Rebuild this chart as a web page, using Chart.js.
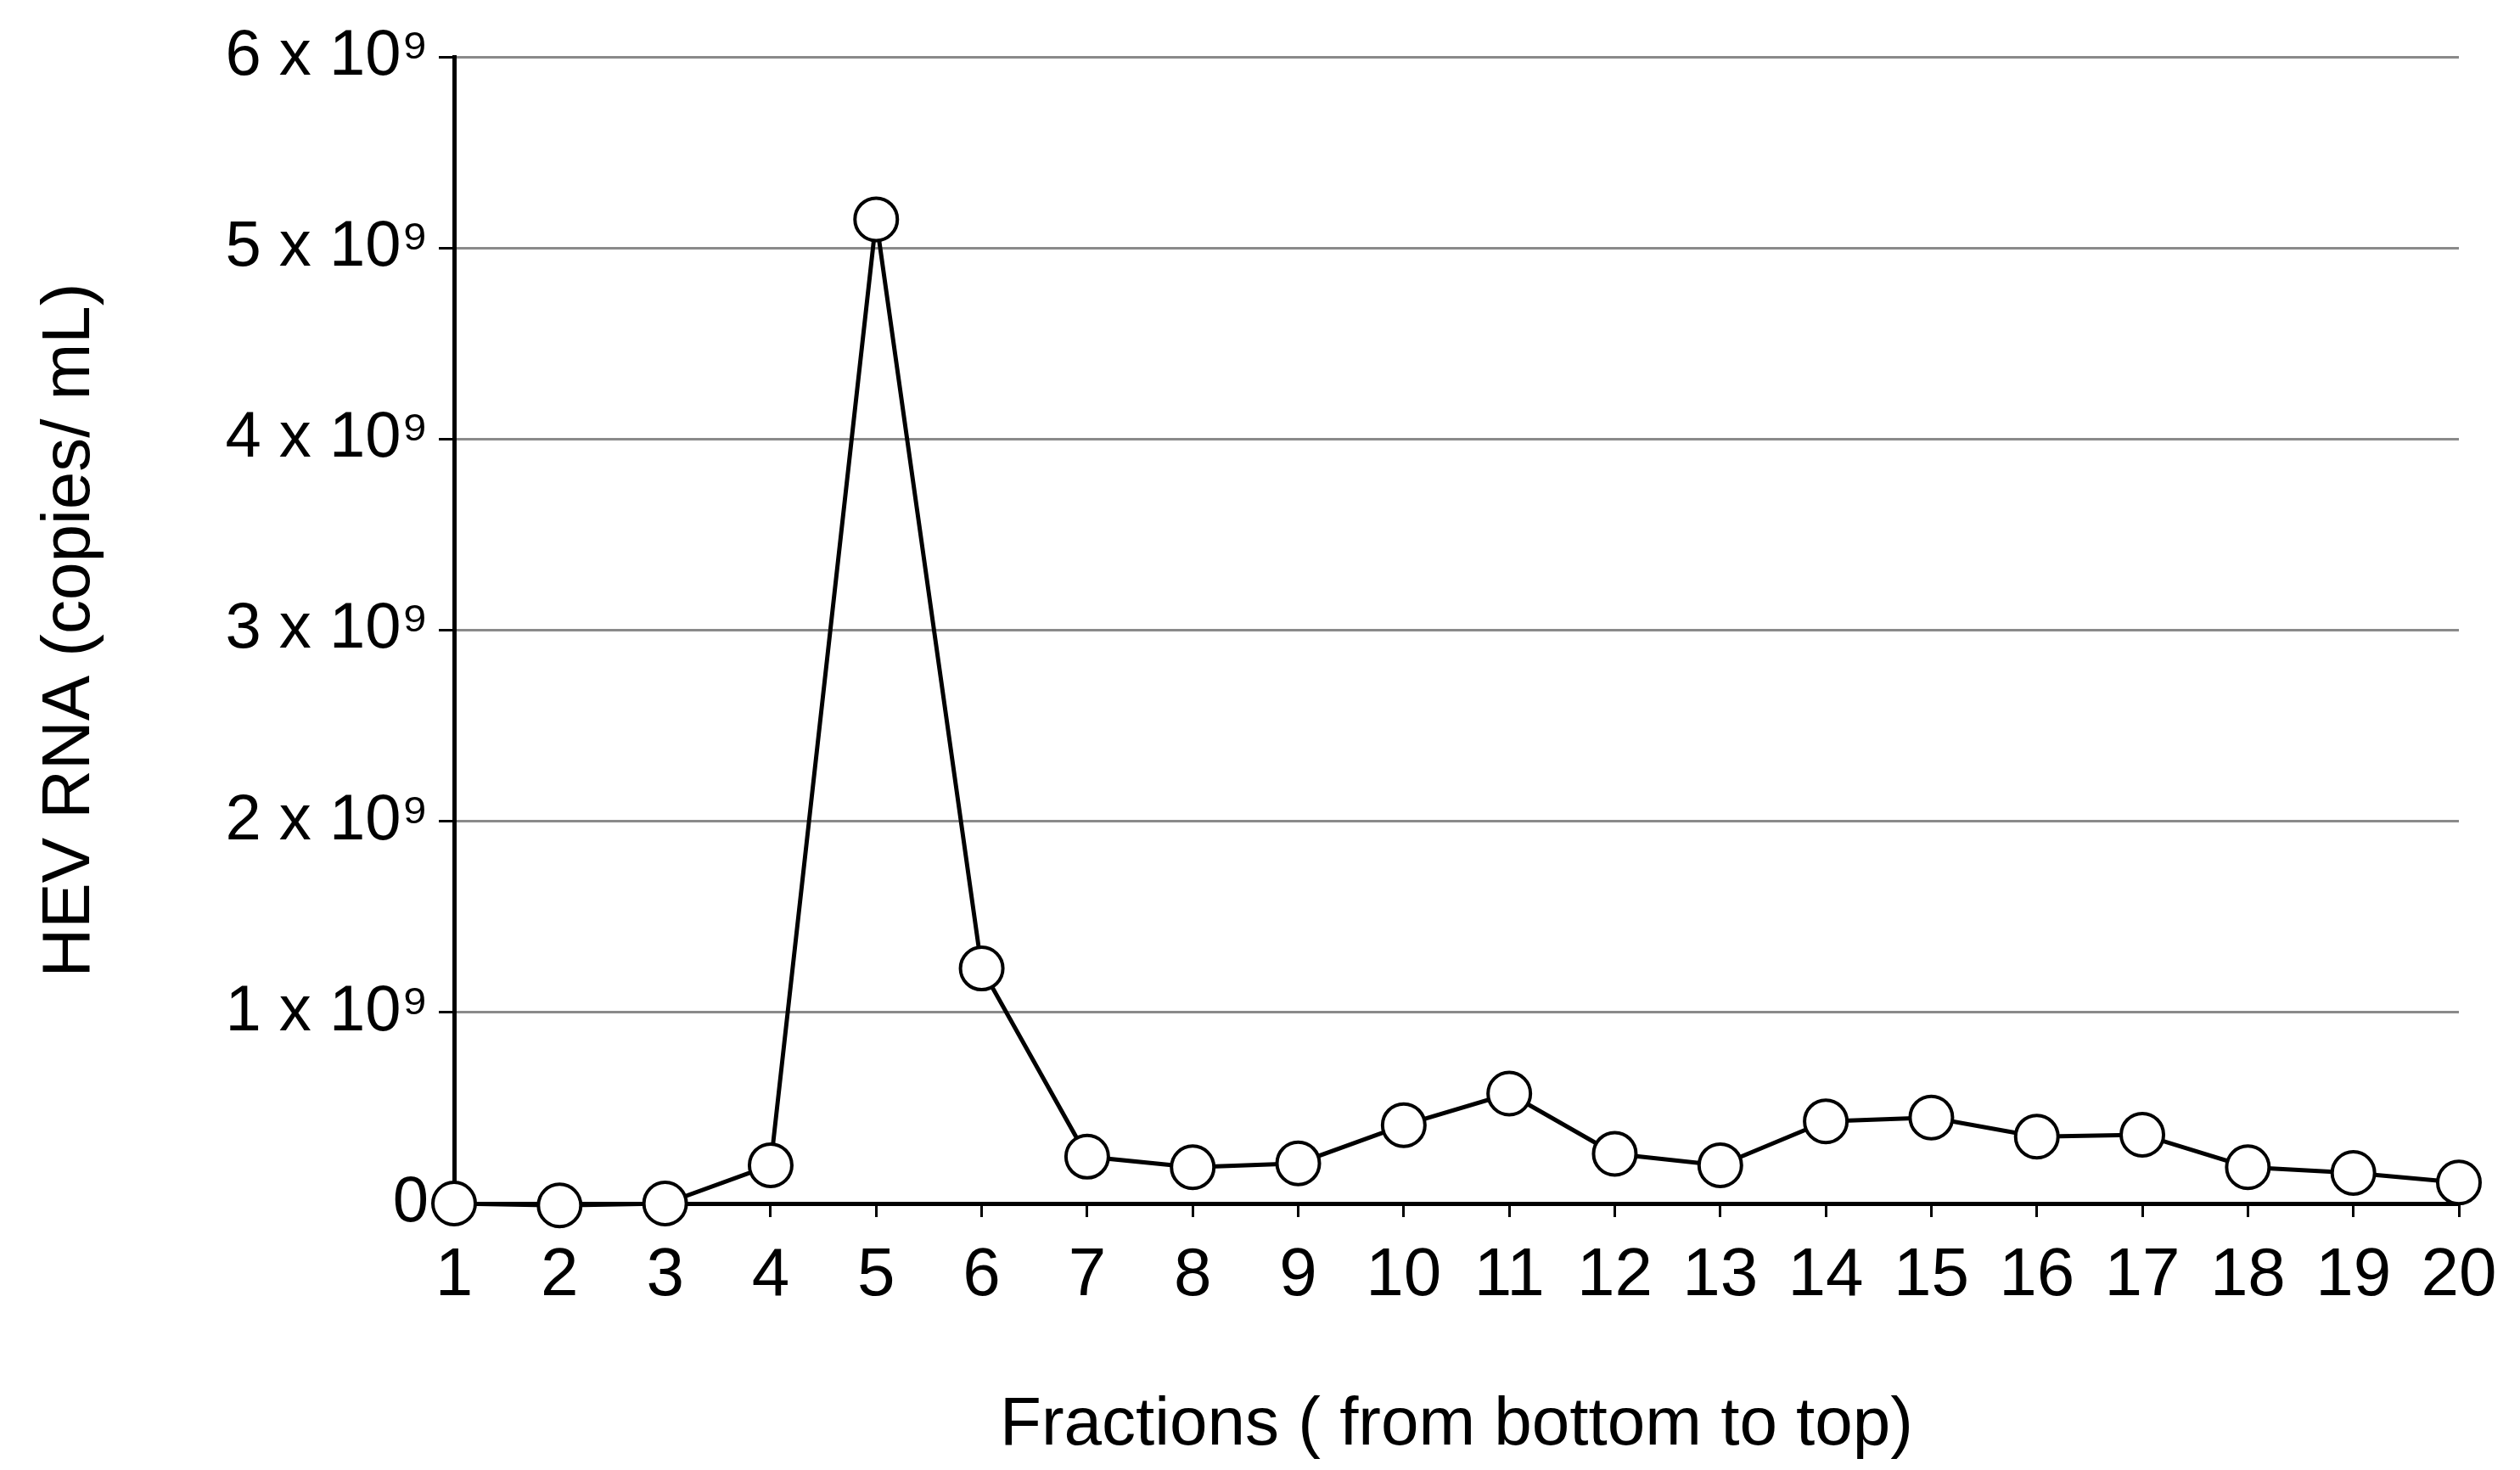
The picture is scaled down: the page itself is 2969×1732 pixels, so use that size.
<!DOCTYPE html>
<html>
<head>
<meta charset="UTF-8">
<script src="https://cdn.jsdelivr.net/npm/chart.js"></script>
<style>
  html, body { margin: 0; padding: 0; background: #fff; }
  #wrap { width: 2969px; height: 1732px; }
</style>
</head>
<body>
<div id="wrap"><canvas id="myChart" width="2969" height="1732"></canvas></div>
<script>
const fractions = ['1','2','3','4','5','6','7','8','9','10','11','12','13','14','15','16','17','18','19','20'];
// HEV RNA, copies/mL (units of 1e9)
const hevRna = [0, -0.01, 0, 0.2, 5.15, 1.23, 0.245, 0.19, 0.21, 0.41, 0.575, 0.26, 0.2, 0.43, 0.45, 0.35, 0.36, 0.19, 0.16, 0.11];
const yTicks = [0, 1, 2, 3, 4, 5, 6];

const font = 'Liberation Sans, Arial, sans-serif';

const ctx = document.getElementById('myChart').getContext('2d');
new Chart(ctx, {
  type: 'line',
  data: {
    labels: fractions,
    datasets: [{
      data: hevRna.map(v => v * 1e9),
      borderColor: '#000',
      borderWidth: 5,
      pointRadius: 25,
      pointBackgroundColor: '#fff',
      pointBorderColor: '#000',
      pointBorderWidth: 4,
      tension: 0,
      clip: false
    }]
  },
  options: {
    responsive: false,
    animation: false,
    layout: { padding: { top: 67, right: 72, left: 0, bottom: 0 } },
    plugins: { legend: { display: false }, tooltip: { enabled: false } },
    scales: {
      x: {
        offset: false,
        grid: { drawOnChartArea: false, color: '#000', tickLength: 16, lineWidth: 3 },
        border: { color: '#000', width: 5 },
        ticks: { color: '#000', font: { family: font, size: 80 }, padding: 22, maxRotation: 0, autoSkip: false },
        title: { display: true, text: 'Fractions ( from bottom to top)', color: '#000',
                 font: { family: font, size: 80 }, padding: { top: 50 } },
        afterFit: s => { s.height = 314; }
      },
      y: {
        min: 0, max: 6e9,
        afterBuildTicks: s => { s.ticks = yTicks.map(v => ({ value: v * 1e9 })); },
        grid: { color: ctx => ctx.tick && ctx.tick.value === 0 ? '#000' : '#8a8a8a', lineWidth: 3, tickLength: 18,
                tickColor: '#000' },
        border: { color: '#000', width: 5 },
        ticks: {
          color: '#000', font: { family: font, size: 76 }, padding: 12,
          callback: v => v === 0 ? '0' : (v / 1e9) + ' x 10\u2079'
        },
        title: { display: true, text: 'HEV RNA (copies/ mL)', color: '#000',
                 font: { family: font, size: 80 }, padding: { top: 35, bottom: 40 } },
        afterFit: s => { s.width = 535; }
      }
    }
  }
});
</script>
</body>
</html>
